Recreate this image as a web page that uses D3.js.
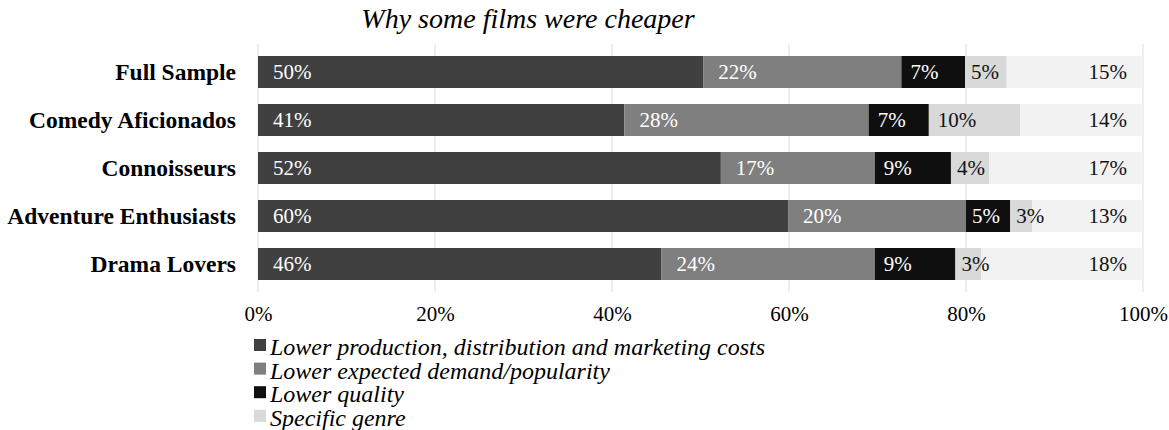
<!DOCTYPE html>
<html>
<head>
<meta charset="utf-8">
<script src="https://cdn.jsdelivr.net/npm/d3@7"></script>
<style>
  html, body { margin: 0; padding: 0; background: #fff; }
  svg { display: block; }
  svg text { font-family: "Liberation Serif", "Times New Roman", serif; }
</style>
</head>
<body>
<svg id="chart" width="1169" height="430"></svg>
<script>
// Audience groups, top to bottom
const groups = ["Full Sample", "Comedy Aficionados", "Connoisseurs", "Adventure Enthusiasts", "Drama Lovers"];

// Share of answers (percent) per reason, one array per reason, aligned with groups
const reasonNames = [
  "Lower production, distribution and marketing costs",
  "Lower expected demand/popularity",
  "Lower quality",
  "Specific genre",
  "Other"
];
const productionCosts = [50.3, 41.4, 52.3, 59.9, 45.6];
const expectedDemand  = [22.4, 27.6, 17.4, 20.1, 24.1];
const lowerQuality    = [7.2, 6.8, 8.6, 5.0, 9.1];
const specificGenre   = [4.7, 10.3, 4.3, 2.5, 2.9];
const otherReasons    = [15.4, 13.9, 17.4, 12.5, 18.3];

const tickValues = [0, 20, 40, 60, 80, 100];

const series = [productionCosts, expectedDemand, lowerQuality, specificGenre, otherReasons];
const fills = ["#404040", "#7f7f7f", "#0f0f0f", "#d9d9d9", "#f2f2f2"];
const labelFills = ["#fff", "#fff", "#fff", "#111", "#111"];
const serif = "'Liberation Serif', 'Times New Roman', serif";

const svg = d3.select("#chart");

const x = d3.scaleLinear().domain([0, 100]).range([258, 1143]);
const y = d3.scaleBand().domain(groups).range([48, 288]).paddingInner(1 / 3).paddingOuter(1 / 6);

// Title
svg.append("text")
  .attr("x", 528).attr("y", 28)
  .attr("text-anchor", "middle")
  .style("font-family", serif)
  .style("font-style", "italic")
  .style("font-size", "28px")
  .text("Why some films were cheaper");

// Vertical gridlines
svg.append("g").selectAll("line")
  .data(tickValues)
  .join("line")
  .attr("x1", d => x(d)).attr("x2", d => x(d))
  .attr("y1", 44).attr("y2", 292)
  .attr("stroke", "#e8e8e8").attr("stroke-width", 1.5);

// Stack rows
const rows = groups.map((g, i) => {
  let acc = 0;
  return series.map((s, k) => {
    const seg = { group: g, k, v: s[i], x0: acc, x1: acc + s[i] };
    acc += s[i];
    return seg;
  });
});

const rowG = svg.append("g").selectAll("g")
  .data(rows)
  .join("g")
  .attr("transform", (d, i) => `translate(0,${y(groups[i])})`);

rowG.selectAll("rect")
  .data(d => d)
  .join("rect")
  .attr("x", d => x(d.x0))
  .attr("width", d => x(d.x1) - x(d.x0))
  .attr("y", 0)
  .attr("height", y.bandwidth())
  .attr("fill", d => fills[d.k]);

rowG.selectAll("text")
  .data(d => d)
  .join("text")
  .attr("x", d => {
    const w = x(d.x1) - x(d.x0);
    if (d.k === series.length - 1) return x(d.x1) - 16;
    const pad = w < 50 ? 6 : (w < 100 ? 9 : 15);
    return x(d.x0) + pad;
  })
  .attr("text-anchor", d => d.k === series.length - 1 ? "end" : "start")
  .attr("y", y.bandwidth() / 2)
  .attr("dy", "0.35em")
  .attr("fill", d => labelFills[d.k])
  .style("font-family", serif)
  .style("font-size", "21px")
  .text(d => Math.round(d.v) + "%");

// Category axis
const yAxis = svg.append("g")
  .attr("transform", `translate(${x(0)},0)`)
  .call(d3.axisLeft(y).tickSize(0).tickPadding(22));
yAxis.select(".domain").remove();
yAxis.selectAll("text")
  .style("font-family", serif)
  .style("font-weight", "bold")
  .style("font-size", "23.5px")
  .attr("fill", "#000");

// Value axis
const xAxis = svg.append("g")
  .attr("transform", "translate(0,296)")
  .call(d3.axisBottom(x).tickValues(tickValues).tickFormat(d => d + "%").tickSize(0).tickPadding(10));
xAxis.select(".domain").remove();
xAxis.selectAll("text")
  .style("font-family", serif)
  .style("font-size", "21px")
  .attr("fill", "#000");

// Legend
const legend = svg.append("g").selectAll("g")
  .data(reasonNames.slice(0, 4))
  .join("g")
  .attr("transform", (d, i) => `translate(0,${355 + i * 23.6})`);
legend.append("rect")
  .attr("x", 254).attr("y", -16)
  .attr("width", 12).attr("height", 12)
  .attr("fill", (d, i) => fills[i]);
legend.append("text")
  .attr("x", 270)
  .style("font-family", serif)
  .style("font-style", "italic")
  .style("font-size", "24px")
  .text(d => d);
</script>
</body>
</html>
